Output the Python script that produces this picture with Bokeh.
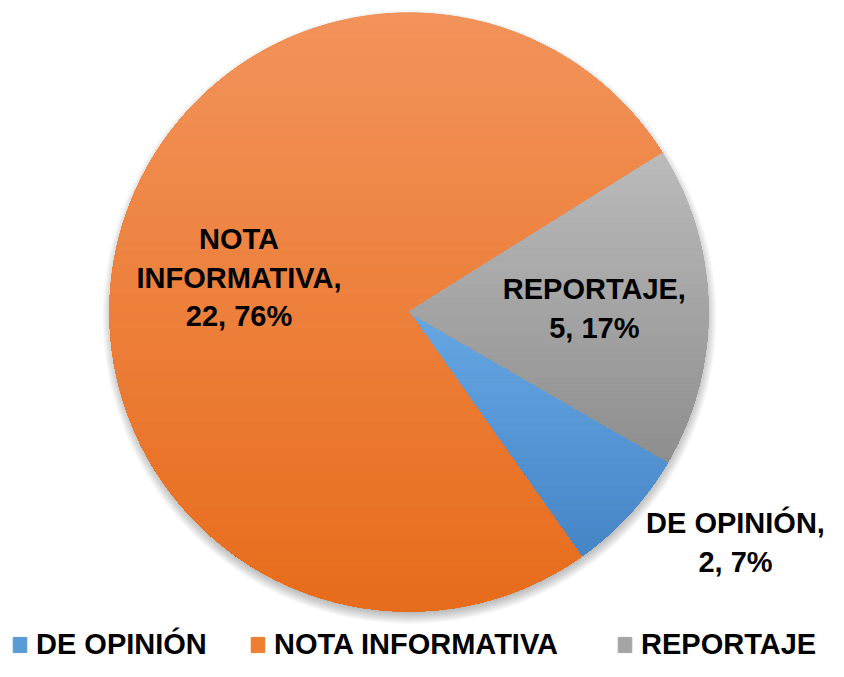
import numpy as np
from bokeh.plotting import figure
from bokeh.models import ColumnDataSource, Range1d, Legend, LegendItem
from bokeh.core.properties import value
from bokeh.embed import file_html
from bokeh.resources import INLINE

# ---- data ----
categories = ["DE OPINIÓN", "NOTA INFORMATIVA", "REPORTAJE"]
counts = [2, 22, 5]
label_names = ["DE OPINIÓN,", "NOTA\nINFORMATIVA,", "REPORTAJE,"]
colors_top = ["#66A7E3", "#F2935B", "#BBBBBB"]
colors_mid = ["#5B9BD5", "#ED7D31", "#A5A5A5"]
colors_bottom = ["#4685C6", "#E76C1B", "#8E8E8E"]

# ---- layout / style ----
W, H = 828, 661
CX, CY, R = 408.5, 349.5, 299.0
START = np.deg2rad(-30.0)
FONT = "Liberation Sans"

total = sum(counts)
cum = np.cumsum([0] + counts)
start_angles = START - cum[:-1] / total * 2 * np.pi
end_angles = START - cum[1:] / total * 2 * np.pi
pcts = [int(round(c / total * 100)) for c in counts]
mid_angles = (start_angles + end_angles) / 2

p = figure(width=W, height=H, x_range=Range1d(0, W), y_range=Range1d(0, H),
           output_backend="svg", toolbar_location=None,
           x_axis_location=None, y_axis_location=None, min_border=0)
p.xgrid.visible = False
p.ygrid.visible = False
p.outline_line_color = None
p.background_fill_color = "white"
p.border_fill_color = "white"

# soft shadow
for k in range(13):
    p.circle(x=[CX + 0.5], y=[CY - 5], radius=R - 4 + k, fill_color="black",
             fill_alpha=0.022, line_color=None)

src = ColumnDataSource(dict(
    cat=categories, count=counts, start=start_angles, end=end_angles,
    color=colors_mid,
))
wr = p.wedge(x=CX, y=CY, radius=R, start_angle="start", end_angle="end",
             direction="clock", fill_color="color", line_color="color",
             line_width=1, source=src)


def hexrgb(h):
    h = h.lstrip("#")
    return np.array([int(h[i:i + 2], 16) for i in (0, 2, 4)], dtype=float)


def clip_below(xs, ys, yk):
    ox, oy = [], []
    n = len(xs)
    for i in range(n):
        x1, y1 = xs[i - 1], ys[i - 1]
        x2, y2 = xs[i], ys[i]
        in1, in2 = y1 <= yk, y2 <= yk
        if in2:
            if not in1:
                t = (yk - y1) / (y2 - y1)
                ox.append(x1 + t * (x2 - x1)); oy.append(yk)
            ox.append(x2); oy.append(y2)
        elif in1:
            t = (yk - y1) / (y2 - y1)
            ox.append(x1 + t * (x2 - x1)); oy.append(yk)
    return ox, oy


# vertical gradient per slice (layers over its own bounding box)
N = 70
for i in range(len(categories)):
    a0, a1 = start_angles[i], end_angles[i]
    m = max(8, int(abs(a1 - a0) / (2 * np.pi) * 720))
    angs = np.linspace(a0, a1, m)
    pxs = [CX] + list(CX + R * np.cos(angs))
    pys = [CY] + list(CY + R * np.sin(angs))
    ymin, ymax = min(pys), max(pys)
    ct, cb = hexrgb(colors_top[i]), hexrgb(colors_bottom[i])
    lxs, lys, lcol = [], [], []
    for k in range(N):
        yk = ymax - k * (ymax - ymin) / N + (0.5 if k == 0 else 0)
        cx_, cy_ = clip_below(pxs, pys, yk)
        if len(cx_) < 3:
            continue
        t = (k + 0.5) / N
        c = ct + t * (cb - ct)
        lxs.append(cx_); lys.append(cy_)
        lcol.append("#%02x%02x%02x" % tuple(int(round(v)) for v in c))
    p.patches(xs=lxs, ys=lys, fill_color=lcol, line_color=lcol, line_width=0.8)

# data labels
lab_x, lab_y = [], []
inside_factor = [None, 0.58, 0.62]
for i in range(len(categories)):
    if inside_factor[i] is None:
        lab_x.append(CX + 326.5); lab_y.append(CY - 230.5)
    else:
        lab_x.append(CX + inside_factor[i] * R * np.cos(mid_angles[i]))
        lab_y.append(CY + inside_factor[i] * R * np.sin(mid_angles[i]))
lab_text = [f"{n}\n{c}, {pc}%" for n, c, pc in zip(label_names, counts, pcts)]
lsrc = ColumnDataSource(dict(x=lab_x, y=lab_y, text=lab_text))
p.text(x="x", y="y", text="text", source=lsrc, text_align="center",
       text_baseline="middle", text_font=value(FONT), text_font_style="bold",
       text_font_size="29px", text_color="black", text_line_height=1.2)

# legend: one per item for exact placement
leg_x = [11, 249, 616]
for i, cat in enumerate(categories):
    lg = Legend(items=[LegendItem(label=cat, renderers=[wr], index=i)],
                orientation="horizontal", location=(leg_x[i], 0),
                padding=0, margin=0, spacing=0,
                glyph_width=17, glyph_height=19, label_standoff=8,
                label_text_font=FONT, label_text_font_style="bold",
                label_text_font_size="29px", label_text_color="black",
                border_line_color=None, background_fill_alpha=0)
    p.add_layout(lg)

open("out.html", "w").write(file_html(p, INLINE))
